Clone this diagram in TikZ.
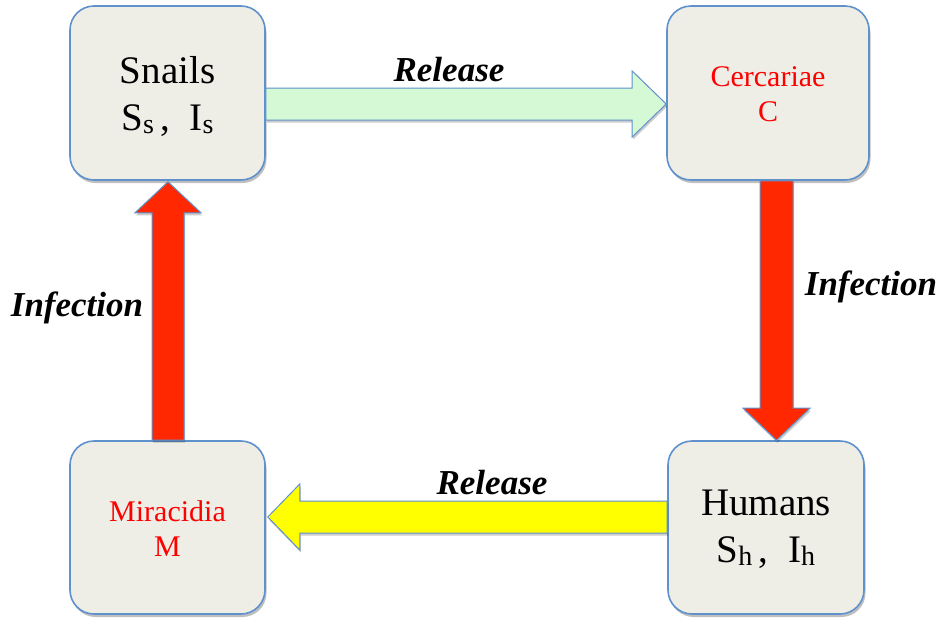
\documentclass[tikz,border=0pt]{standalone}
\usepackage{fontspec}
\setmainfont{Liberation Serif}
\usetikzlibrary{calc,shadows}
\definecolor{boxfill}{RGB}{239,238,230}
\definecolor{boxline}{RGB}{95,145,205}
\definecolor{arrred}{RGB}{255,40,0}
\definecolor{arrgreen}{RGB}{212,249,212}
\definecolor{arryellow}{RGB}{255,255,0}
\newcommand{\subl}[1]{{\fontsize{28}{28}\selectfont\raisebox{-3pt}{#1}}}
\begin{document}
\begin{tikzpicture}[x=1pt,y=-1pt,
  stage/.style={draw=boxline, line width=1.6pt, fill=boxfill, rounded corners=24pt,
    align=center, inner sep=0pt,
    drop shadow={shadow xshift=1.5pt, shadow yshift=-3pt, opacity=0.25, fill=black}},
  blockarrow/.style={draw=boxline, line width=1pt,
    drop shadow={shadow xshift=1pt, shadow yshift=-2.5pt, opacity=0.2, fill=black}},
  lbl/.style={font=\fontsize{35}{35}\selectfont\bfseries\itshape, inner sep=0pt},
  big/.style={font=\fontsize{39}{47}\selectfont},
  small/.style={font=\fontsize{30}{35}\selectfont, text=red}
]
\useasboundingbox (0,0) rectangle (942,619);
\fill[white] (0,0) rectangle (942,619);

\node[stage, minimum width=195pt, minimum height=174pt] (sn) at (167.5,93) {};
\node[stage, minimum width=202pt, minimum height=174pt] (ce) at (768,93) {};
\node[stage, minimum width=195pt, minimum height=173pt] (mi) at (167.5,527.5) {};
\node[stage, minimum width=196pt, minimum height=173pt] (hu) at (766,527.5) {};

\node[big, align=center] (snt) at ($(sn.center)+(0,3)$) {Snails\\S\subl{s}\,,\ \ I\subl{s}};
\node[small, align=center] (cet) at ($(ce.center)+(0,1)$) {Cercariae\\C};
\node[small, align=center] (mit) at ($(mi.center)+(0,1)$) {Miracidia\\M};
\node[big, align=center] (hut) at ($(hu.center)+(0,2)$) {Humans\\S\subl{h}\,,\ \ I\subl{h}};

% Release (top, green): snails -> cercariae
\coordinate (r1a) at (sn.east |- 0,104);
\coordinate (r1b) at (ce.west |- 0,104);
\draw[blockarrow, fill=arrgreen]
  ($(r1a)+(0,-16)$) -- ($(r1b)+(-34,-16)$) -- ($(r1b)+(-34,-33)$) -- (r1b)
  -- ($(r1b)+(-34,33)$) -- ($(r1b)+(-34,16)$) -- ($(r1a)+(0,16)$) -- cycle;

% Infection (right, red): cercariae -> humans
\coordinate (i1a) at (776.5,0 |- ce.south);
\coordinate (i1b) at (776.5,0 |- hu.north);
\draw[blockarrow, fill=arrred]
  ($(i1a)+(-16.5,0)$) -- ($(i1b)+(-16.5,-32)$) -- ($(i1b)+(-33.5,-32)$) -- (i1b)
  -- ($(i1b)+(33.5,-32)$) -- ($(i1b)+(16.5,-32)$) -- ($(i1a)+(16.5,0)$) -- cycle;

% Release (bottom, yellow): humans -> miracidia
\coordinate (r2a) at (hu.west |- 0,517);
\coordinate (r2b) at (mi.east |- 0,517);
\draw[blockarrow, fill=arryellow]
  ($(r2a)+(0,-16)$) -- ($(r2b)+(34,-16)$) -- ($(r2b)+(34,-33)$) -- ($(r2b)+(2,0)$)
  -- ($(r2b)+(34,33)$) -- ($(r2b)+(34,16)$) -- ($(r2a)+(0,16)$) -- cycle;

% Infection (left, red): miracidia -> snails
\coordinate (i2a) at (168,0 |- mi.north);
\coordinate (i2b) at (168,0 |- sn.south);
\draw[blockarrow, fill=arrred]
  ($(i2a)+(-16,0)$) -- ($(i2b)+(-16,32)$) -- ($(i2b)+(-33,32)$) -- ($(i2b)+(0,1)$)
  -- ($(i2b)+(33,32)$) -- ($(i2b)+(16,32)$) -- ($(i2a)+(16,0)$) -- cycle;

\node[lbl] (l1) at (449,70) {Release};
\node[lbl] (l2) at (871,287) {Infection};
\node[lbl] (l3) at (492,483) {Release};
\node[lbl] (l4) at (77,308) {Infection};
\end{tikzpicture}
\end{document}
